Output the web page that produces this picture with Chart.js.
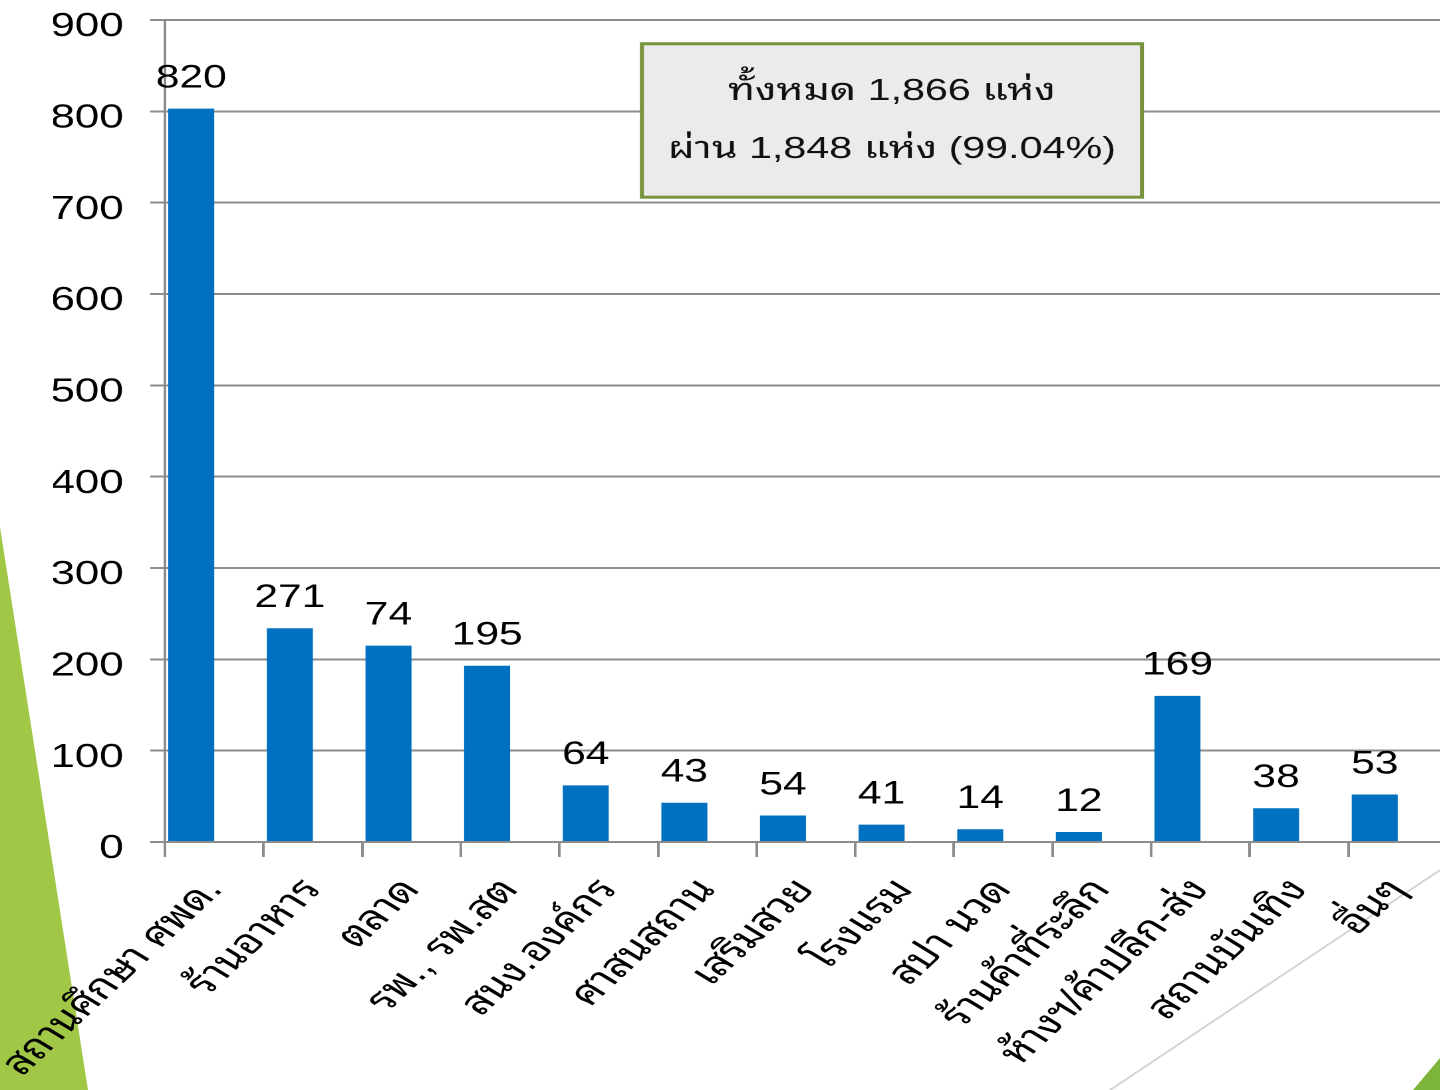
<!DOCTYPE html>
<html><head><meta charset="utf-8">
<script src="https://cdn.jsdelivr.net/npm/chart.js@4.4.1/dist/chart.umd.min.js"></script>
<style>
html,body{margin:0;padding:0;width:1440px;height:1090px;overflow:hidden;background:#fff;}
#deco{position:absolute;left:0;top:0;}
#wrap{position:absolute;left:0;top:0;width:1100px;height:1090px;transform:scaleX(1.33);transform-origin:0 0;}
</style></head><body>
<svg id="deco" width="1440" height="1090">
  <polygon points="0,527 88,1090 0,1090" fill="#A0C846"/>
  <line x1="1110" y1="1090" x2="1440" y2="870" stroke="#d4d4d4" stroke-width="2"/>
  <polygon points="1413,1090 1440,1058 1440,1090" fill="#7DB43C"/>
</svg>
<div id="wrap"><canvas id="c"></canvas></div>
<script>
const categories = ['สถานศึกษา ศพด.', 'ร้านอาหาร', 'ตลาด', 'รพ., รพ.สต', 'สนง.องค์กร', 'ศาสนสถาน', 'เสริมสวย', 'โรงแรม', 'สปา นวด', 'ร้านค้าที่ระลึก', 'ห้างฯ/ค้าปลีก-ส่ง', 'สถานบันเทิง', 'อื่นๆ'];
const barValues = [803, 234, 215, 193, 62, 43, 29, 19, 14, 11, 160, 37, 52];
const labelValues = [820, 271, 74, 195, 64, 43, 54, 41, 14, 12, 169, 38, 53];
const yTicks = [0, 100, 200, 300, 400, 500, 600, 700, 800, 900];
const summaryLines = ['ทั้งหมด 1,866 แห่ง', 'ผ่าน 1,848 แห่ง (99.04%)'];

const FONT = "'Liberation Sans', 'Noto Sans Thai Looped', 'Noto Serif Thai', 'Noto Sans Thai', 'Noto Sans', sans-serif";
const GRID = '#8c8c8c';

const labelPlugin = {
  id: 'barLabels',
  afterDatasetsDraw(chart) {
    const ctx = chart.ctx;
    const meta = chart.getDatasetMeta(0);
    ctx.save();
    ctx.font = '32px ' + FONT;
    ctx.fillStyle = '#000';
    ctx.textAlign = 'center';
    ctx.textBaseline = 'middle';
    meta.data.forEach((bar, i) => {
      ctx.fillText(String(labelValues[i]), bar.x, bar.y - 30);
    });
    // summary box
    const a = chart.chartArea, y = chart.scales.y;
    const left = a.left + 0.372 * (a.right - a.left);
    const right = a.left + 0.762 * (a.right - a.left);
    const top = y.getPixelForValue(874), bottom = y.getPixelForValue(706);
    ctx.fillStyle = '#EBEBEB';
    ctx.fillRect(left, top, right - left, bottom - top);
    ctx.strokeStyle = '#77933C';
    ctx.lineWidth = 3;
    ctx.strokeRect(left, top, right - left, bottom - top);
    ctx.fillStyle = '#111';
    ctx.font = '31px ' + FONT;
    const cx = (left + right) / 2, h = bottom - top;
    ctx.fillText(summaryLines[0], cx, top + 0.31 * h);
    ctx.fillText(summaryLines[1], cx, top + 0.69 * h);
    ctx.restore();
  }
};

new Chart(document.getElementById('c'), {
  type: 'bar',
  data: {
    labels: categories,
    datasets: [
      { data: barValues, backgroundColor: '#0070C0', categoryPercentage: 0.933, barPercentage: 1.0 },
      { data: categories.map(() => null), backgroundColor: 'rgba(0,0,0,0)', categoryPercentage: 0.933, barPercentage: 1.0 }
    ]
  },
  options: {
    responsive: true,
    maintainAspectRatio: false,
    animation: false,
    devicePixelRatio: 2,
    layout: { padding: { left: 40, top: 20, right: 12, bottom: 0 } },
    plugins: { legend: { display: false }, tooltip: { enabled: false } },
    scales: {
      y: {
        min: 0, max: 900,
        afterBuildTicks(s) { s.ticks = yTicks.map(v => ({ value: v })); },
        ticks: { font: { size: 33, family: FONT }, color: '#000', padding: 20, labelOffset: 7 },
        grid: { color: GRID, lineWidth: 2, tickLength: 11, drawTicks: true },
        border: { display: true, color: GRID, width: 2 },
        afterFit(s) { s.width = 84; s.paddingTop = 0; s.paddingBottom = 0; }
      },
      x: {
        grid: { offset: true, drawOnChartArea: false, drawTicks: true, tickLength: 15, color: GRID, lineWidth: 2 },
        border: { display: true, color: GRID, width: 2 },
        ticks: { autoSkip: false, minRotation: 51, maxRotation: 51, font: { size: 34, family: FONT }, color: '#000', padding: 14 },
        afterFit(s) { s.height = 248; s.paddingLeft = 0; s.paddingRight = 0; }
      }
    }
  },
  plugins: [labelPlugin]
});
</script>
</body></html>
